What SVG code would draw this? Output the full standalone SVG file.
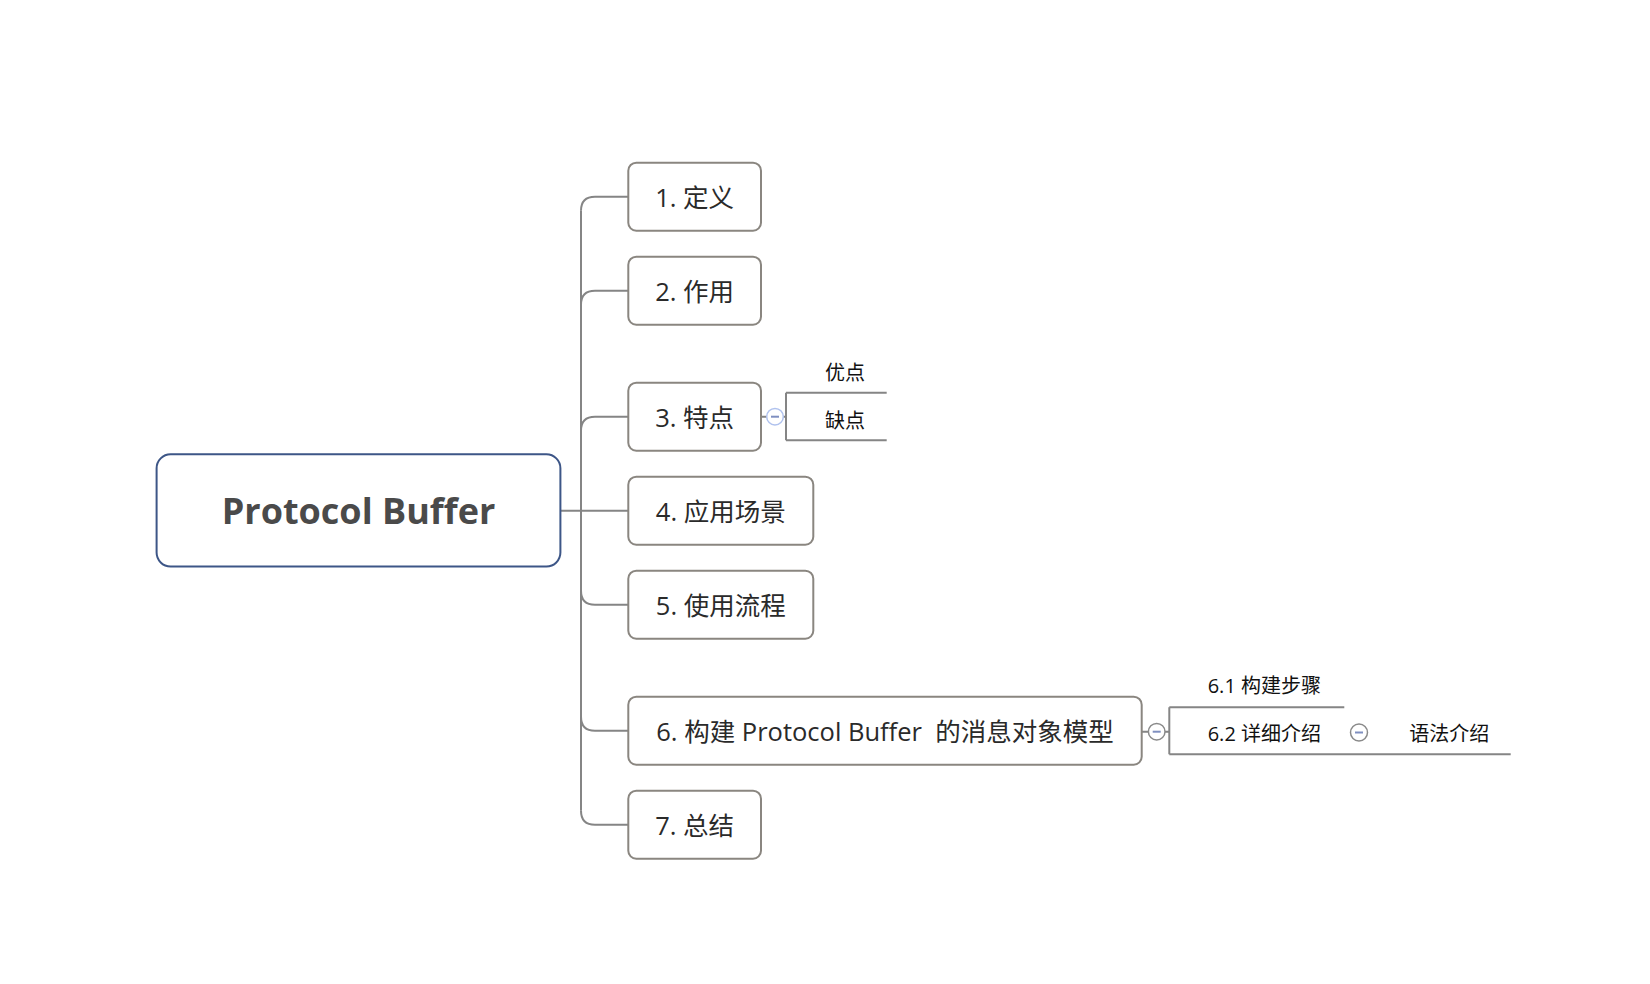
<svg xmlns="http://www.w3.org/2000/svg" width="1650" height="984" viewBox="0 0 1650 984">
<style>
.bg{fill:#ffffff}
.conn{fill:none;stroke:#858585;stroke-width:2}
.node{fill:#ffffff;stroke:#8a8680;stroke-width:2}
.root{fill:#ffffff;stroke:#3d5687;stroke-width:2}
.t{font-family:"Open Sans","Noto Sans CJK SC",sans-serif;font-size:25.5px;fill:#2a2a2a;text-anchor:middle}
.rt{font-family:"Open Sans","Noto Sans CJK SC",sans-serif;font-size:36px;font-weight:bold;fill:#4a4a4a;text-anchor:middle}
.st{font-family:"Open Sans","Noto Sans CJK SC",sans-serif;font-size:20px;fill:#111111}
.fold{fill:#ffffff;stroke-width:1.5}
.minus{stroke:#7f8fc0;stroke-width:2}
</style>
<rect class="bg" x="0" y="0" width="1650" height="984"/>
<g id="connectors">
<path class="conn" d="M581,210.7 V810.7"/>
<path class="conn" d="M560.4,510.7 H628.3"/>
<path class="conn" d="M581,210.7 Q581,196.7 595,196.7 H628.3"/>
<path class="conn" d="M581,304.7 Q581,290.7 595,290.7 H628.3"/>
<path class="conn" d="M581,430.7 Q581,416.7 595,416.7 H628.3"/>
<path class="conn" d="M581,590.7 Q581,604.7 595,604.7 H628.3"/>
<path class="conn" d="M581,716.7 Q581,730.7 595,730.7 H628.3"/>
<path class="conn" d="M581,810.7 Q581,824.7 595,824.7 H628.3"/>
<path class="conn" d="M761,416.7 H766.7 M783.3,416.7 H786 M786,392.7 V440.3 M786,392.7 H886.7 M786,440.3 H886.7"/>
<path class="conn" d="M1141.7,731.7 H1148.7 M1164.7,731.7 H1169.3 M1169.3,707.3 V754.3 M1169.3,707.3 H1344.3 M1169.3,754.3 H1510.7"/>
</g>
<g id="root">
<rect class="root" x="156.6" y="454.3" width="403.8" height="112.3" rx="14"/>
<text class="rt" x="358.5" y="523.5">Protocol Buffer</text>
</g>
<g id="n1">
<rect class="node" x="628.3" y="162.7" width="132.7" height="68" rx="8"/>
<text class="t" x="694.6" y="206.5">1. 定义</text>
</g>
<g id="n2">
<rect class="node" x="628.3" y="256.7" width="132.7" height="68" rx="8"/>
<text class="t" x="694.6" y="300.5">2. 作用</text>
</g>
<g id="n3">
<rect class="node" x="628.3" y="382.7" width="132.7" height="68" rx="8"/>
<text class="t" x="694.6" y="426.5">3. 特点</text>
</g>
<g id="n3fold">
<circle class="fold" cx="775" cy="416.7" r="8.3" stroke="#b0c2ee"/>
<line class="minus" x1="771" y1="416.7" x2="779" y2="416.7"/>
</g>
<g id="n3a">
<text class="st" x="845" y="379.5" text-anchor="middle">优点</text>
</g>
<g id="n3b">
<text class="st" x="845" y="427.5" text-anchor="middle">缺点</text>
</g>
<g id="n4">
<rect class="node" x="628.3" y="476.7" width="185" height="68" rx="8"/>
<text class="t" x="720.8" y="520.5">4. 应用场景</text>
</g>
<g id="n5">
<rect class="node" x="628.3" y="570.7" width="185" height="68" rx="8"/>
<text class="t" x="720.8" y="614.5">5. 使用流程</text>
</g>
<g id="n6">
<rect class="node" x="628.3" y="696.7" width="513.4" height="68" rx="8"/>
<text class="t" x="885" y="740.5" xml:space="preserve">6. 构建 Protocol Buffer  的消息对象模型</text>
</g>
<g id="n6fold">
<circle class="fold" cx="1156.7" cy="731.7" r="8.3" stroke="#8a8a8a"/>
<line class="minus" x1="1152.7" y1="731.7" x2="1160.7" y2="731.7"/>
</g>
<g id="n61">
<text class="st" x="1207.7" y="692.5">6.1 构建步骤</text>
</g>
<g id="n62">
<text class="st" x="1207.7" y="740.5">6.2 详细介绍</text>
</g>
<g id="n62fold">
<circle class="fold" cx="1359" cy="732.5" r="8.5" stroke="#8a8a8a"/>
<line class="minus" x1="1355" y1="732.5" x2="1363" y2="732.5"/>
</g>
<g id="n621">
<text class="st" x="1409.3" y="740.5">语法介绍</text>
</g>
<g id="n7">
<rect class="node" x="628.3" y="790.7" width="132.7" height="68" rx="8"/>
<text class="t" x="694.6" y="834.5">7. 总结</text>
</g>
</svg>
